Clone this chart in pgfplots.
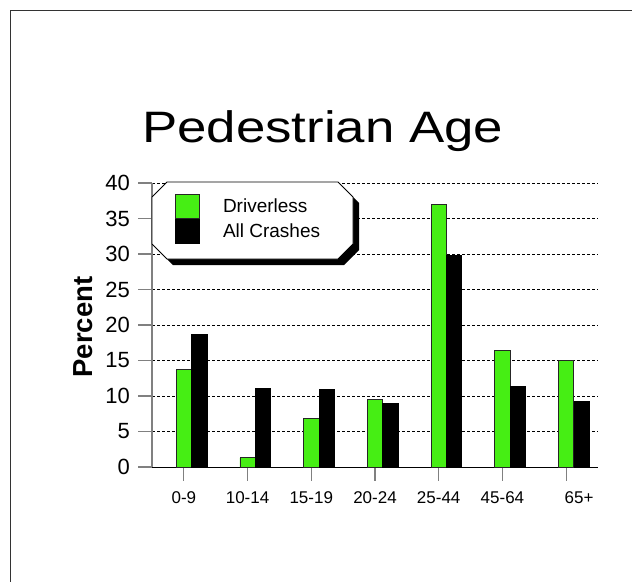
\documentclass[border=0pt]{standalone}
\usepackage{pgfplots}
\pgfplotsset{compat=1.18}
\usepackage{fontspec}
\setmainfont{Liberation Sans}
\definecolor{dgreen}{RGB}{70,238,20}
\pgfplotsset{sqlegend/.style={legend image code/.code={\draw[##1] (0pt,-12pt) rectangle (24pt,12pt);}}}
\begin{document}
\begin{tikzpicture}
\useasboundingbox (0,0) rectangle (632pt,582pt);
\fill[white] (0,0) rectangle (632pt,582pt);
\draw[black!80, line width=0.8pt] (632pt,572pt) -- (10pt,572pt) -- (10pt,0pt);
\begin{axis}[
  at={(152pt,115pt)}, anchor=south west,
  scale only axis, width=446pt, height=284pt,
  xmin=-0.5, xmax=6.5, ymin=0, ymax=40,
  clip=false,
  axis x line*=bottom, axis y line*=left,
  x axis line style={black, line width=1pt},
  y axis line style={black!50, line width=1.2pt},
  ytick={0,5,...,40},
  xtick={0,...,6},
  xticklabels={0-9,10-14,15-19,20-24,25-44,45-64,\hspace*{26pt}65+},
  ymajorgrids,
  grid style={black, dash pattern=on 3pt off 2pt, line width=0.8pt},
  tick align=outside,
  major tick length=13.5pt,
  tick style={black!50, line width=1.2pt},
  /pgf/number format/assume math mode=true,
  yticklabel style={font=\fontsize{22}{24}\selectfont, xshift=-5pt},
  xticklabel style={font=\fontsize{17}{20}\selectfont, yshift=-8pt},
  title={Pedestrian Age},
  title style={at={(rel axis cs:0.383,1)}, anchor=base, yshift=35pt,
    font=\fontsize{44}{50}\selectfont, xscale=1.2},
  ylabel={Percent},
  ylabel style={at={(axis description cs:-0.1345,0.493)}, anchor=base,
    font=\bfseries\fontsize{27.5}{30}\selectfont},
  legend style={at={(rel axis cs:0,1)}, anchor=north west, xshift=23pt, yshift=-11pt,
    draw=none, fill=none, inner sep=0pt, row sep=0pt, column sep=21pt,
    font=\fontsize{19}{22}\selectfont, cells={anchor=west}},
]
\addplot[ybar, bar width=15.3pt, bar shift=0pt, fill=dgreen, draw=black!85, line width=0.8pt, sqlegend]
  coordinates {(0,13.7)(1,1.3)(2,6.8)(3,9.5)(4,37.0)(5,16.4)(6,15.0)};
\addlegendentry{Driverless}
\addplot[ybar, bar width=15.3pt, bar shift=15.5pt, fill=black, draw=black, line width=0.8pt, sqlegend]
  coordinates {(0,18.7)(1,11.1)(2,10.9)(3,9.0)(4,29.8)(5,11.3)(6,9.2)};
\addlegendentry{All Crashes}
\fill[black] (rel axis cs:0,1) ++(21pt,-5pt) -- ++(171pt,0pt) -- ++(15pt,-15pt) -- ++(0pt,-47pt)
  -- ++(-15pt,-15pt) -- ++(-171pt,0pt) -- ++(-15pt,15pt) -- ++(0pt,47pt) -- cycle;
\draw[black, fill=white, line width=0.9pt] (rel axis cs:0,1) ++(15pt,1pt) -- ++(171pt,0pt) -- ++(15pt,-15pt) -- ++(0pt,-47pt)
  -- ++(-15pt,-15pt) -- ++(-171pt,0pt) -- ++(-15pt,15pt) -- ++(0pt,47pt) -- cycle;
\end{axis}
\end{tikzpicture}
\end{document}
